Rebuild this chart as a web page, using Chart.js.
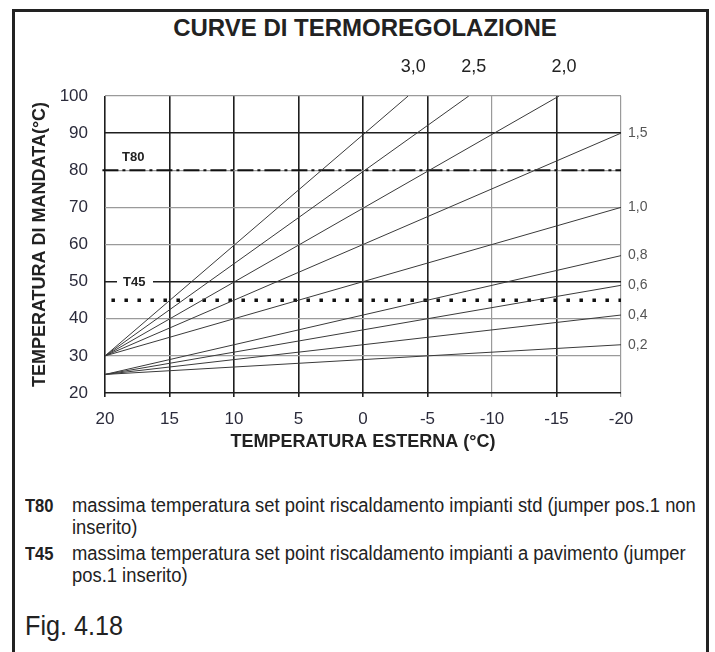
<!DOCTYPE html>
<html>
<head>
<meta charset="utf-8">
<script src="https://cdn.jsdelivr.net/npm/chart.js@4.4.1/dist/chart.umd.min.js"></script>
<style>
  body { margin:0; background:#fff; width:715px; height:652px; overflow:hidden; position:relative; }
  #frame { position:absolute; left:12px; top:9px; width:691px; height:700px; border:3px solid #222; }
  #title { position:absolute; left:0; width:730px; top:14px; text-align:center; font:bold 24px "Liberation Sans", Arial, sans-serif; color:#222; }
  #chart { position:absolute; left:0; top:0; }
  .note { position:absolute; font-family:"Liberation Sans", Arial, sans-serif; font-size:20px; line-height:22px; color:#222;
          white-space:nowrap; transform:scaleX(0.92); transform-origin:0 0; }
  .note b { font-size:18px; }
</style>
</head>
<body>
<div id="frame"></div>
<div id="title">CURVE DI TERMOREGOLAZIONE</div>
<canvas id="chart" width="715" height="460"></canvas>

<div class="note" style="left:25px;top:494px"><b>T80</b></div>
<div class="note" style="left:72px;top:494px">massima temperatura set point riscaldamento impianti std (jumper pos.1 non</div>
<div class="note" style="left:72px;top:516px">inserito)</div>
<div class="note" style="left:25px;top:542px"><b>T45</b></div>
<div class="note" style="left:72px;top:542px">massima temperatura set point riscaldamento impianti a pavimento (jumper</div>
<div class="note" style="left:72px;top:564px">pos.1 inserito)</div>
<div class="note" style="left:25px;top:610px;font-size:28px;line-height:32px;transform:scaleX(0.9)">Fig. 4.18</div>

<script>
// axes
const xTicks = [20, 15, 10, 5, 0, -5, -10, -15, -20];
const yTicks = [20, 30, 40, 50, 60, 70, 80, 90, 100];
const darkX = [20, 15, 10, 5, 0, -5, -15];
const darkY = [90, 50, 20];

// heating curves: flow temp from outdoor temp 20 down to the end point
const curveNames  = ['3,0', '2,5', '2,0', '1,5', '1,0', '0,8', '0,6', '0,4', '0,2'];
const curveStartT = [30, 30, 30, 30, 30, 25, 25, 25, 25];
const curveEndExt = [-3.5, -8.2, -15.2, -20, -20, -20, -20, -20, -20];
const curveEndT   = [100, 100, 100, 90, 70, 57, 49, 41, 33];

// set point limits
const t80Ext = [20.2, -20];
const t80 = 80;
const t45Ext = [19.5, -20];
const t45 = 45;

const AXIS_FONT = '"Liberation Sans", Arial, sans-serif';

const curveSets = curveNames.map((name, i) => ({
  label: name,
  data: [{x: 20, y: curveStartT[i]}, {x: curveEndExt[i], y: curveEndT[i]}],
  borderColor: '#3a3a3a',
  borderWidth: 1,
  showLine: true,
  pointRadius: 0
}));

const limitSets = [
  {
    label: 'T80',
    data: t80Ext.map(x => ({x, y: t80})),
    borderColor: '#111',
    borderWidth: 2.2,
    borderDash: [16, 4, 3, 4],
    showLine: true, pointRadius: 0, clip: false
  },
  {
    label: 'T45',
    data: t45Ext.map(x => ({x, y: t45})),
    borderColor: '#111',
    borderWidth: 3.5,
    borderDash: [3.5, 9.5],
    showLine: true, pointRadius: 0, clip: false
  }
];

const curveLabels = {
  id: 'curveLabels',
  afterDraw(chart) {
    const {ctx, chartArea: a, scales: {x, y}} = chart;
    ctx.save();
    ctx.textBaseline = 'middle';
    curveNames.forEach((name, i) => {
      if (curveEndT[i] >= y.max) {
        ctx.font = '18px ' + AXIS_FONT;
        ctx.fillStyle = '#222';
        ctx.textAlign = 'center';
        ctx.fillText(name, x.getPixelForValue(curveEndExt[i]) + 5, a.top - 29);
      } else {
        ctx.font = '14px ' + AXIS_FONT;
        ctx.fillStyle = '#555';
        ctx.textAlign = 'left';
        ctx.fillText(name, a.right + 7, y.getPixelForValue(curveEndT[i]));
      }
    });

    ctx.font = 'bold 13px ' + AXIS_FONT;
    ctx.fillStyle = '#222';
    ctx.textAlign = 'left';
    ctx.fillText('T80', a.left + 17, y.getPixelForValue(t80) - 13);

    const y50 = y.getPixelForValue(50);
    ctx.fillStyle = '#fff';
    ctx.fillRect(a.left + 12, y50 - 3, 36, 6);
    ctx.fillStyle = '#222';
    ctx.fillText('T45', a.left + 18, y50 + 1);
    ctx.restore();
  }
};

new Chart(document.getElementById('chart'), {
  type: 'scatter',
  data: {datasets: [...curveSets, ...limitSets]},
  options: {
    responsive: false,
    animation: false,
    devicePixelRatio: 1,
    layout: {padding: {top: 96, right: 94, bottom: 7, left: 0}},
    plugins: {legend: {display: false}, tooltip: {enabled: false}},
    scales: {
      x: {
        type: 'linear', reverse: true, min: -20, max: 20,
        afterBuildTicks: s => { s.ticks = xTicks.map(v => ({value: v})); },
        afterFit: s => { s.height = 60; },
        border: {display: false},
        grid: {
          color: c => darkX.includes(c.tick.value) ? '#1e1e1e' : '#9a9a9a',
          lineWidth: c => darkX.includes(c.tick.value) ? 1.6 : 1.2,
          tickLength: 4
        },
        ticks: {color: '#2b2b3b', font: {family: AXIS_FONT, size: 17}, padding: 12},
        title: {display: true, text: 'TEMPERATURA ESTERNA (°C)', color: '#222',
                font: {family: AXIS_FONT, size: 18, weight: 'bold'}, padding: {top: 0, bottom: 0}}
      },
      y: {
        min: 20, max: 100,
        afterBuildTicks: s => { s.ticks = yTicks.map(v => ({value: v})); },
        afterFit: s => { s.width = 105; },
        border: {display: false},
        grid: {
          color: c => darkY.includes(c.tick.value) ? '#1e1e1e' : '#9a9a9a',
          lineWidth: c => darkY.includes(c.tick.value) ? 1.6 : 1.2,
          drawTicks: false
        },
        ticks: {color: '#2b2b3b', font: {family: AXIS_FONT, size: 17}, padding: 17},
        title: {display: true, text: 'TEMPERATURA DI MANDATA(°C)', color: '#222',
                font: {family: AXIS_FONT, size: 18, weight: 'bold'}, padding: {top: 29, bottom: 0}}
      }
    }
  },
  plugins: [curveLabels]
});
</script>
</body>
</html>
